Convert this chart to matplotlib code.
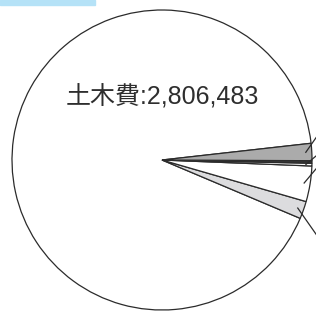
import numpy as np
import matplotlib.pyplot as plt
from matplotlib.patches import Rectangle

plt.rcParams['font.family'] = ['Liberation Sans', 'Noto Sans CJK JP', 'DejaVu Sans']

# slices, counterclockwise starting from the big one
labels = ['土木費', 'その他A', 'その他B', 'その他C', 'その他D', 'その他E']
values = [2806483, 57700, 117100, 8900, 8300, 56600]
colors = ['white', '#dcdcde', 'white', 'white', '#3a3a3a', '#ababab']
main_label = '土木費:2,806,483'

W, H = 316, 311
fig = plt.figure(figsize=(W / 100, H / 100), dpi=100)
ax = fig.add_axes([0, 0, 1, 1])

cx, cy, r = 162, H - 160, 150
wedges, _ = ax.pie(values, colors=colors, startangle=6.4, counterclock=True,
                   center=(cx, cy), radius=r,
                   wedgeprops=dict(edgecolor='#2b2b2b', linewidth=0.9))
ax.set_xlim(0, W)
ax.set_ylim(0, H)
ax.set_aspect('equal')
ax.axis('off')

# leader lines heading off to labels outside the picture
leads = {5: 55, 3: 40, 2: 50, 1: -55}
for i, dirdeg in leads.items():
    w = wedges[i]
    mid = np.radians((w.theta1 + w.theta2) / 2)
    x0 = cx + r * 0.96 * np.cos(mid)
    y0 = cy + r * 0.96 * np.sin(mid)
    d = np.radians(dirdeg)
    ax.plot([x0, x0 + 40 * np.cos(d)], [y0, y0 + 40 * np.sin(d)],
            color='#2b2b2b', lw=0.9, clip_on=False)

ax.text(162, H - 97, main_label, fontsize=18, color='#2e2e2e',
        ha='center', va='center')

# blue tab at the top-left corner
fig.patches.append(Rectangle((0, 1 - 5 / H), 95 / W, 5 / H,
                             transform=fig.transFigure, color='#b5e2f7'))

fig.savefig('out.png', dpi=100)
